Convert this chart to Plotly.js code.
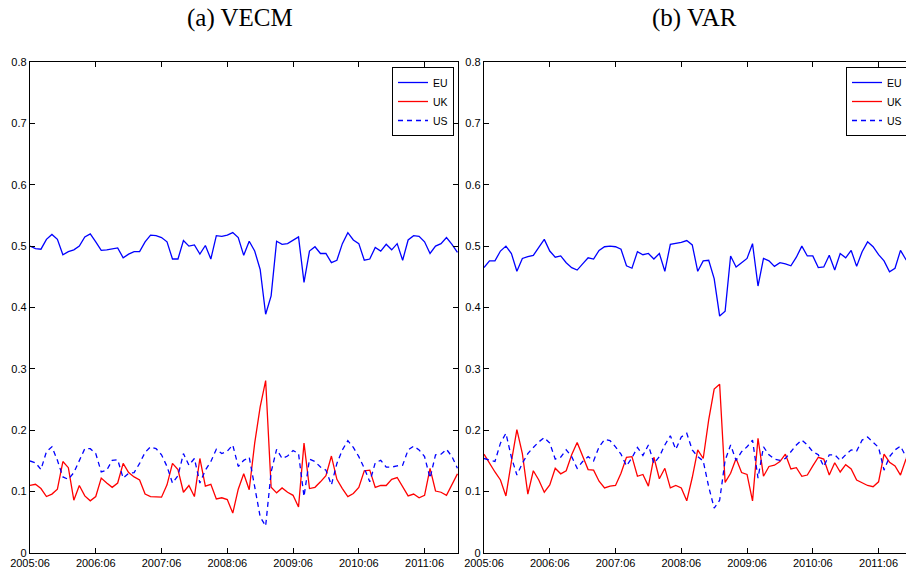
<!DOCTYPE html>
<html>
<head>
<meta charset="utf-8">
<script src="https://cdn.plot.ly/plotly-3.0.1.min.js"></script>
<style>
html,body{margin:0;padding:0;overflow:hidden;background:#fff;}
#chart{width:915px;height:573px;}
</style>
</head>
<body>
<div id="chart"></div>
<script>
// Monthly categories 2005:06 .. 2011:12
const months = [];
for (let y = 2005; y <= 2011; y++) {
  for (let m = 1; m <= 12; m++) {
    if (y === 2005 && m < 6) continue;
    months.push(y + ':' + (m < 10 ? '0' + m : '' + m));
  }
}
const tickLabels = ['2005:06','2006:06','2007:06','2008:06','2009:06','2010:06','2011:06'];
const yTicks = [0,0.1,0.2,0.3,0.4,0.5,0.6,0.7,0.8];
const yTickText = ['0','0.1','0.2','0.3','0.4','0.5','0.6','0.7','0.8'];
const seriesNames = ['EU','UK','US'];
const panelTitles = ['(a) VECM','(b) VAR'];

const vecmEU = [0.500,0.496,0.495,0.511,0.519,0.511,0.486,0.491,0.494,0.500,0.515,0.520,0.507,0.493,0.494,0.495,0.497,0.481,0.487,0.491,0.491,0.507,0.518,0.517,0.514,0.507,0.479,0.479,0.509,0.500,0.502,0.487,0.501,0.479,0.517,0.516,0.518,0.522,0.514,0.485,
0.508,0.492,0.462,0.389,0.419,0.508,0.503,0.504,0.509,0.515,0.441,0.492,0.499,0.488,0.488,0.473,0.477,0.504,0.522,0.510,0.504,0.477,0.479,0.498,0.492,0.503,0.494,0.504,0.477,0.510,0.517,0.516,0.507,0.488,0.500,0.504,0.514,0.503,0.490];
const vecmUK = [0.110,0.112,0.105,0.092,0.096,0.104,0.149,0.139,0.086,0.110,0.093,0.085,0.092,0.122,0.114,0.107,0.114,0.146,0.131,0.124,0.119,0.096,0.092,0.091,0.091,0.111,0.146,0.136,0.099,0.110,0.092,0.154,0.109,0.112,0.088,0.090,0.087,0.065,0.104,0.129,
0.103,0.179,0.238,0.281,0.107,0.098,0.106,0.099,0.094,0.075,0.179,0.105,0.107,0.116,0.126,0.158,0.120,0.105,0.092,0.097,0.107,0.134,0.135,0.107,0.110,0.110,0.120,0.123,0.107,0.093,0.096,0.090,0.094,0.138,0.101,0.099,0.094,0.111,0.129];
const vecmUS = [0.150,0.147,0.136,0.165,0.173,0.151,0.124,0.120,0.131,0.151,0.170,0.170,0.162,0.132,0.135,0.151,0.152,0.122,0.130,0.131,0.146,0.164,0.173,0.170,0.160,0.141,0.114,0.126,0.162,0.143,0.154,0.114,0.135,0.149,0.169,0.162,0.166,0.176,0.141,0.151,
0.156,0.108,0.059,0.044,0.132,0.169,0.154,0.158,0.167,0.162,0.092,0.153,0.149,0.140,0.135,0.111,0.146,0.168,0.183,0.172,0.157,0.138,0.116,0.147,0.151,0.140,0.140,0.142,0.143,0.168,0.174,0.168,0.157,0.122,0.160,0.161,0.169,0.157,0.138];

const varEU = [0.465,0.476,0.476,0.492,0.500,0.488,0.459,0.480,0.483,0.485,0.498,0.511,0.492,0.482,0.484,0.473,0.465,0.461,0.471,0.481,0.479,0.493,0.499,0.500,0.499,0.495,0.468,0.464,0.491,0.486,0.488,0.479,0.488,0.459,0.503,0.504,0.506,0.509,0.502,
0.459,0.476,0.477,0.447,0.386,0.394,0.484,0.466,0.473,0.480,0.504,0.435,0.480,0.476,0.467,0.473,0.471,0.468,0.482,0.500,0.484,0.484,0.465,0.466,0.485,0.461,0.488,0.481,0.493,0.467,0.491,0.507,0.499,0.486,0.476,0.458,0.464,0.493,0.478,0.470];
const varUK = [0.161,0.146,0.132,0.119,0.093,0.149,0.201,0.162,0.096,0.134,0.119,0.099,0.111,0.138,0.129,0.134,0.160,0.180,0.158,0.136,0.135,0.117,0.106,0.109,0.110,0.130,0.156,0.157,0.125,0.128,0.109,0.156,0.121,0.138,0.106,0.110,0.106,0.085,0.123,
0.168,0.154,0.217,0.267,0.275,0.115,0.130,0.154,0.131,0.128,0.085,0.187,0.125,0.141,0.143,0.149,0.161,0.137,0.139,0.125,0.127,0.142,0.156,0.153,0.127,0.147,0.132,0.144,0.137,0.119,0.115,0.110,0.108,0.116,0.161,0.148,0.142,0.127,0.153,0.160];
const varUS = [0.154,0.151,0.149,0.179,0.195,0.156,0.127,0.146,0.162,0.172,0.181,0.188,0.179,0.153,0.156,0.168,0.157,0.138,0.149,0.157,0.150,0.173,0.185,0.183,0.173,0.161,0.142,0.155,0.172,0.159,0.176,0.146,0.157,0.176,0.191,0.169,0.189,0.195,0.168,
0.157,0.150,0.108,0.073,0.086,0.151,0.176,0.151,0.165,0.173,0.184,0.122,0.173,0.160,0.153,0.151,0.154,0.165,0.176,0.184,0.176,0.165,0.160,0.141,0.160,0.160,0.151,0.160,0.168,0.166,0.184,0.189,0.181,0.172,0.135,0.157,0.168,0.174,0.157,0.150];

const W = 915, H = 573;
const tickFont = {family: '"Liberation Sans Narrow", "Arial Narrow", "Liberation Sans", Arial, sans-serif', size: 11, color: '#000'};
const legFont = {family: '"Liberation Sans Narrow", "Arial Narrow", "Liberation Sans", Arial, sans-serif', size: 10.5, color: '#000'};
const styles = [
  {color: '#0000ff', width: 1.3, dash: 'solid'},
  {color: '#ff0000', width: 1.3, dash: 'solid'},
  {color: '#0000ff', width: 1.3, dash: '5px,4px'}
];

function mk(vals, i, xa, ya, leg) {
  return {x: months, y: vals, type: 'scatter', mode: 'lines', name: seriesNames[i],
    xaxis: xa, yaxis: ya, legend: leg, line: styles[i], hoverinfo: 'skip'};
}
const data = [
  mk(vecmEU,0,'x','y','legend'), mk(vecmUK,1,'x','y','legend'), mk(vecmUS,2,'x','y','legend'),
  mk(varEU,0,'x2','y2','legend2'), mk(varUK,1,'x2','y2','legend2'), mk(varUS,2,'x2','y2','legend2')
];

function xax(d0, d1, anchor) {
  return {domain: [d0/W, d1/W], anchor: anchor, type: 'category', range: [0, 78.1],
    tickmode: 'array', tickvals: tickLabels, ticktext: tickLabels,
    ticks: 'inside', ticklen: 5, tickwidth: 1, tickcolor: '#000',
    showline: true, linecolor: '#000', linewidth: 1.2, mirror: 'ticks',
    showgrid: false, zeroline: false, tickfont: tickFont, automargin: false};
}
function yax(anchor) {
  return {domain: [1 - 553/H, 1 - 62/H], anchor: anchor, range: [0, 0.8],
    tickmode: 'array', tickvals: yTicks, ticktext: yTickText,
    ticks: 'inside', ticklen: 5, tickwidth: 1, tickcolor: '#000',
    showline: true, linecolor: '#000', linewidth: 1.2, mirror: 'ticks',
    showgrid: false, zeroline: false, tickfont: tickFont, automargin: false};
}
function leg(xr, yt) {
  return {x: xr/W, y: 1 - yt/H, xanchor: 'right', yanchor: 'top', bgcolor: '#fff',
    bordercolor: '#000', borderwidth: 1, font: legFont, tracegroupgap: 0,
    itemwidth: 30, traceorder: 'normal'};
}

const titleFont = {family: '"Liberation Serif", "Times New Roman", serif', size: 25, color: '#000'};
const layout = {
  width: W, height: H,
  margin: {l: 0, r: 0, t: 0, b: 0},
  paper_bgcolor: '#fff', plot_bgcolor: '#fff',
  showlegend: true,
  xaxis: xax(30, 458, 'y'),
  yaxis: yax('x'),
  xaxis2: xax(484, 912, 'y2'),
  yaxis2: yax('x2'),
  legend: leg(454, 67),
  legend2: leg(908, 67),
  annotations: [
    {text: panelTitles[0], xref: 'paper', yref: 'paper', x: 240/W, y: 1 - 18/H, xanchor: 'center', yanchor: 'middle', showarrow: false, font: titleFont},
    {text: panelTitles[1], xref: 'paper', yref: 'paper', x: 694/W, y: 1 - 18/H, xanchor: 'center', yanchor: 'middle', showarrow: false, font: titleFont}
  ]
};

Plotly.newPlot('chart', data, layout, {staticPlot: true, displayModeBar: false});
</script>
</body>
</html>
